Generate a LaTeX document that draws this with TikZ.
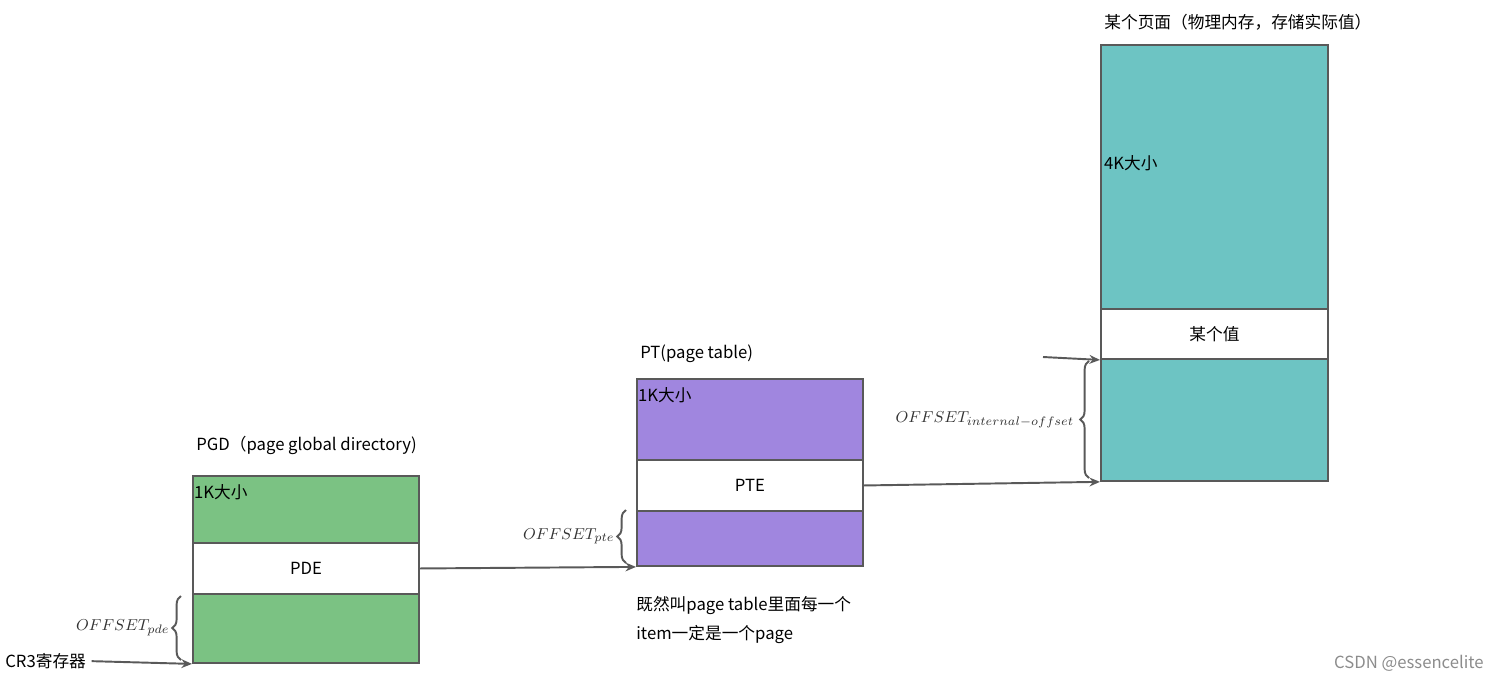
\documentclass[tikz,border=0pt]{standalone}
\usepackage{fontspec}
\setmainfont{Noto Sans CJK SC}
\usetikzlibrary{arrows.meta, positioning, decorations.pathreplacing}

\definecolor{lineGray}{HTML}{595959}
\definecolor{pgdGreen}{HTML}{7BC283}
\definecolor{ptPurple}{HTML}{A086DF}
\definecolor{pageTeal}{HTML}{6DC4C3}

\begin{document}
\begin{tikzpicture}[
      x=0.02cm, y=-0.02cm,
      font=\fontsize{9.5}{11.5}\selectfont,
      table/.style={rectangle, draw=lineGray, line width=1.1pt, anchor=north west, inner sep=0pt},
      entry/.style={table, fill=white, minimum height=1.02cm},
      title/.style={anchor=west, inner sep=0pt},
      size/.style={anchor=north west, inner sep=1pt, yshift=-4pt},
      arrow/.style={-{Stealth[length=6pt, width=5pt]}, line width=1.1pt, lineGray},
      offbrace/.style={decorate, decoration={brace, amplitude=5pt}, line width=1.1pt, lineGray},
      offlabel/.style={anchor=east, inner sep=0pt, text=black!80}
    ]
    \useasboundingbox (0,0) rectangle (1496,680);

    % PGD
    \node[table, fill=pgdGreen, minimum width=4.52cm, minimum height=3.74cm] (pgd) at (192,475) {};
    \node[entry, minimum width=4.52cm] (pde) at (192,542) {PDE};
    \node[size] (pgdsize) at (pgd.north west) {1K大小};
    \node[title] (pgdtitle) at (196,445) {PGD（page global directory)};

    % PT
    \node[table, fill=ptPurple, minimum width=4.52cm, minimum height=3.74cm] (pt) at (636,378) {};
    \node[entry, minimum width=4.52cm] (pte) at (636,459) {PTE};
    \node[size] (ptsize) at (pt.north west) {1K大小};
    \node[title] (pttitle) at (640,354) {PT(page table)};
    \node[anchor=north west, inner sep=0pt, align=left] (note) at (636,596)
      {既然叫page table里面每一个\\[5pt]item一定是一个page};

    % page
    \node[table, fill=pageTeal, minimum width=4.54cm, minimum height=8.72cm] (page) at (1100,44) {};
    \node[entry, minimum width=4.54cm, minimum height=1.0cm] (value) at (1100,308) {某个值};
    \node[size] (pagesize) at (1102,146) {4K大小};
    \node[title] (pagetitle) at (1104,22) {某个页面（物理内存，存储实际值）};

    % register
    \node[anchor=west, inner sep=0pt] (cr3) at (5,661) {CR3寄存器};
    \coordinate (in) at (1043,357);

    \draw[arrow, shorten <=3pt] (cr3.east) -- (pgd.south west);
    \draw[arrow] (pde.east) -- (pt.south west);
    \draw[arrow] (pte.east) -- (page.south west);
    \draw[arrow] (in) -- (value.south west);

    % offsets
    \draw[offbrace] (181,660) -- (181,596) node[midway, left=6pt, offlabel] {$OFFSET_{pde}$};
    \draw[offbrace] (626,563) -- (626,510) node[midway, left=6pt, offlabel] {$OFFSET_{pte}$};
    \draw[offbrace] (1089,478) -- (1089,361) node[midway, left=8pt, offlabel] {$OFFSET_{internal-offset}$};

    \node[anchor=east, inner sep=0pt, text=black!45] (mark) at (1484,663) {CSDN @essencelite};
  \end{tikzpicture}
\end{document}
